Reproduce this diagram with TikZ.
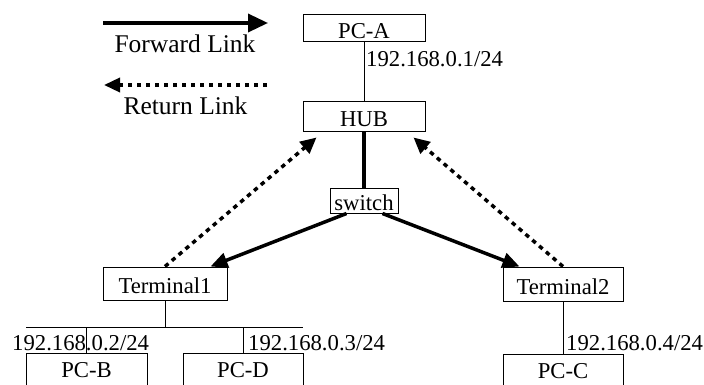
\documentclass[tikz,border=0pt]{standalone}
\usepackage{fontspec}
\setmainfont{Liberation Serif}
\usetikzlibrary{arrows.meta,calc}

\tikzset{
  box/.style={draw, line width=1pt, inner sep=0pt, text height=20pt, text depth=0pt,
              font=\fontsize{22.7}{26}\selectfont},
  pcbox/.style={box, minimum width=120pt, minimum height=34pt, text height=14pt},
  iplabel/.style={anchor=base west, inner sep=0pt, font=\fontsize{22.7}{26}\selectfont},
  legendtext/.style={anchor=base, inner sep=0pt, font=\fontsize{25.5}{28}\selectfont},
  thin link/.style={line width=1pt},
  forward/.style={line width=3.5pt, -{Triangle[length=17pt,width=15pt]}},
  return/.style={line width=3.5pt, dash pattern=on 4.5pt off 4.5pt, -{Triangle[length=16pt,width=15pt]}},
}

\begin{document}
\begin{tikzpicture}[x=1pt, y=-1pt]
  \clip (0,0) rectangle (704,385);
  \fill[white] (0,0) rectangle (704,385);

  % legend
  \coordinate (fwdA) at (103,23);
  \coordinate (fwdB) at (268,23);
  \coordinate (retA) at (267,85);
  \coordinate (retB) at (104,85);
  \draw[line width=3.5pt, -{Triangle[length=20pt,width=18pt]}] (fwdA) -- (fwdB);
  \node[legendtext] (fwdtxt) at (185,53) {Forward Link};
  \draw[line width=3.5pt, dash pattern=on 4.5pt off 4.5pt, -{Triangle[length=16pt,width=14pt]}] (retA) -- (retB);
  \node[legendtext] (rettxt) at (185.5,115) {Return Link};

  % devices
  \node[box, minimum width=122pt, minimum height=27pt] (pca) at (364,28.5) {PC-A};
  \node[box, minimum width=122pt, minimum height=30pt] (hub) at (364,117) {HUB};
  \node[box, minimum width=68pt, minimum height=25pt] (sw) at (364,200.5) {switch};
  \node[box, minimum width=124pt, minimum height=33pt] (t1) at (165,283.5) {Terminal1};
  \node[box, minimum width=120pt, minimum height=34pt] (t2) at (563,284) {Terminal2};
  \node[pcbox, minimum width=121pt] (pcb) at (86.5,370) {PC-B};
  \node[pcbox] (pcd) at (243,370) {PC-D};
  \node[pcbox] (pcc) at (563,371) {PC-C};

  % wired links
  \draw[thin link] (pca.south) -- (hub.north);
  \draw[line width=4pt] (hub.south) -- (sw.north);
  \coordinate (busL) at (26,327);
  \coordinate (busR) at (303,327);
  \draw[thin link] (busL) -- (busR);
  \draw[thin link] (t1.south) -- (t1.south |- busL);
  \draw[thin link] (pcb.north |- busL) -- (pcb.north);
  \draw[thin link] (pcd.north |- busL) -- (pcd.north);
  \draw[thin link] (t2.south) -- (pcc.north);

  % addresses
  \node[iplabel] (ipa) at (366,67) {192.168.0.1/24};
  \node[iplabel] (ipb) at (12,350) {192.168.0.2/24};
  \node[iplabel] (ipd) at (248,350) {192.168.0.3/24};
  \node[iplabel] (ipc) at (566,350) {192.168.0.4/24};

  % forward links from the switch
  \draw[forward] ($(sw.south west)+(17,0)$) -- ($(t1.north east)+(-17,0)$);
  \draw[forward] ($(sw.south east)+(-16,0)$) -- ($(t2.north west)+(17,0)$);

  % return links to the hub
  \draw[return] (t1.north) -- ($(hub.south west)+(14,5)$);
  \draw[return] (t2.north) -- ($(hub.south east)+(-12,5)$);
\end{tikzpicture}
\end{document}
